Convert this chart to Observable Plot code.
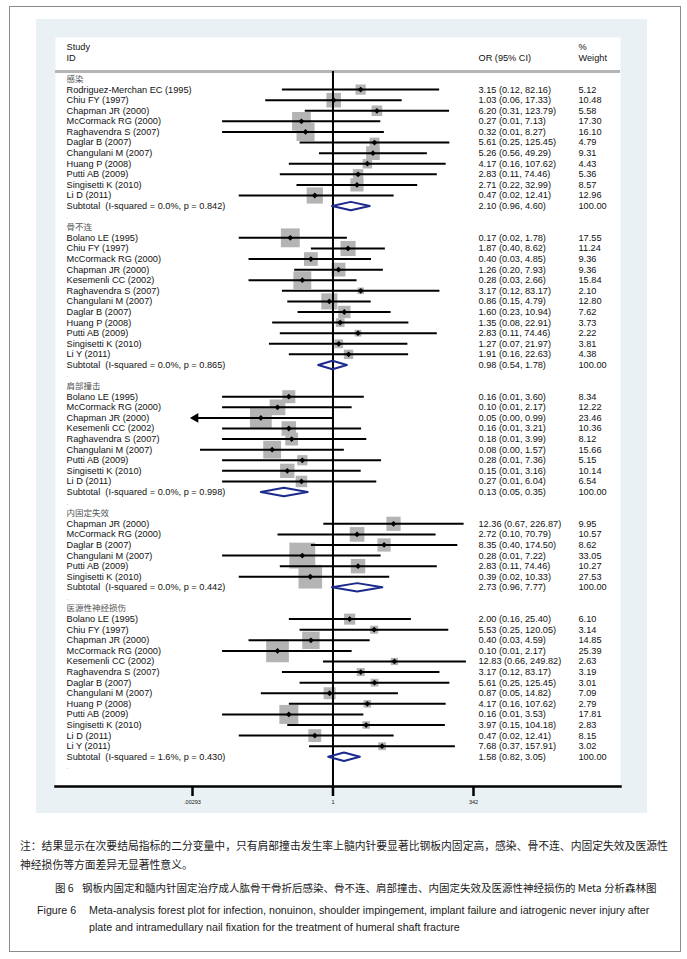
<!DOCTYPE html>
<html><head><meta charset="utf-8">
<script src="https://cdn.jsdelivr.net/npm/d3@7"></script>
<script src="https://cdn.jsdelivr.net/npm/@observablehq/plot@0.6"></script>
<style>
body{margin:0;background:#fff;width:687px;height:959px;position:relative;overflow:hidden;font-family:"Liberation Sans",Arial,sans-serif}
#frame{position:absolute;left:9px;top:6px;width:672px;height:946px;border:1px solid #8a8a8a;box-sizing:border-box}
#chart{position:absolute;left:36px;top:19px}
.cap{position:absolute;white-space:nowrap;color:#1a1a1a}
.cn{font-family:"Noto Sans CJK SC",sans-serif}
.en{font-family:"Liberation Sans",Arial,sans-serif}
</style></head><body>
<div id="frame"></div>
<div id="chart"></div>
<div class="cap cn" style="left:20px;top:837px;font-size:10.8px">注：结果显示在次要结局指标的二分变量中，只有肩部撞击发生率上髓内针要显著比钢板内固定高，感染、骨不连、内固定失效及医源性</div>
<div class="cap cn" style="left:20px;top:856px;font-size:10.8px">神经损伤等方面差异无显著性意义。</div>
<div class="cap cn" style="left:55px;top:880px;font-size:10.5px">图 6</div>
<div class="cap cn" style="left:82px;top:880px;font-size:10.5px">钢板内固定和髓内针固定治疗成人肱骨干骨折后感染、骨不连、肩部撞击、内固定失效及医源性神经损伤的 Meta 分析森林图</div>
<div class="cap en" style="left:37px;top:904px;font-size:10.7px">Figure 6</div>
<div class="cap en" style="left:89px;top:904px;font-size:10.7px">Meta-analysis forest plot for infection, nonuinon, shoulder impingement, implant failure and iatrogenic never injury after</div>
<div class="cap en" style="left:89px;top:921px;font-size:10.7px">plate and intramedullary nail fixation for the treatment of humeral shaft fracture</div>
<script>
const groupNames = ["感染","骨不连","肩部撞击","内固定失效","医源性神经损伤"];
const groupSizes = [11, 12, 9, 6, 13];
const studyNames = [
 "Rodriguez-Merchan EC (1995)","Chiu FY (1997)","Chapman JR (2000)","McCormack RG (2000)","Raghavendra S (2007)","Daglar B (2007)","Changulani M (2007)","Huang P (2008)","Putti AB (2009)","Singisetti K (2010)","Li D (2011)",
 "Bolano LE (1995)","Chiu FY (1997)","McCormack RG (2000)","Chapman JR (2000)","Kesemenli CC (2002)","Raghavendra S (2007)","Changulani M (2007)","Daglar B (2007)","Huang P (2008)","Putti AB (2009)","Singisetti K (2010)","Li Y (2011)",
 "Bolano LE (1995)","McCormack RG (2000)","Chapman JR (2000)","Kesemenli CC (2002)","Raghavendra S (2007)","Changulani M (2007)","Putti AB (2009)","Singisetti K (2010)","Li D (2011)",
 "Chapman JR (2000)","McCormack RG (2000)","Daglar B (2007)","Changulani M (2007)","Putti AB (2009)","Singisetti K (2010)",
 "Bolano LE (1995)","Chiu FY (1997)","Chapman JR (2000)","McCormack RG (2000)","Kesemenli CC (2002)","Raghavendra S (2007)","Daglar B (2007)","Changulani M (2007)","Huang P (2008)","Putti AB (2009)","Singisetti K (2010)","Li D (2011)","Li Y (2011)"
];
const studyOR = [
 3.15,1.03,6.20,0.27,0.32,5.61,5.26,4.17,2.83,2.71,0.47,
 0.17,1.87,0.40,1.26,0.28,3.17,0.86,1.60,1.35,2.83,1.27,1.91,
 0.16,0.10,0.05,0.16,0.18,0.08,0.28,0.15,0.27,
 12.36,2.72,8.35,0.28,2.83,0.39,
 2.00,5.53,0.40,0.10,12.83,3.17,5.61,0.87,4.17,0.16,3.97,0.47,7.68
];
const studyLo = [
 0.12,0.06,0.31,0.01,0.01,0.25,0.56,0.16,0.11,0.22,0.02,
 0.02,0.40,0.03,0.20,0.03,0.12,0.15,0.23,0.08,0.11,0.07,0.16,
 0.01,0.01,0.0025,0.01,0.01,0.004,0.01,0.01,0.01,
 0.67,0.10,0.40,0.01,0.11,0.02,
 0.16,0.25,0.03,0.01,0.66,0.12,0.25,0.05,0.16,0.01,0.15,0.02,0.37
];
const studyHi = [
 82.16,17.33,123.79,7.13,8.27,125.45,49.29,107.62,74.46,32.99,12.41,
 1.78,8.62,4.85,7.93,2.66,83.17,4.79,10.94,22.91,74.46,21.97,22.63,
 3.60,2.17,0.99,3.21,3.99,1.57,7.36,3.16,6.04,
 226.87,70.79,174.50,7.22,74.46,10.33,
 25.40,120.05,4.59,2.17,249.82,83.17,125.45,14.82,107.62,3.53,104.18,12.41,157.91
];
const studyWeight = [
 5.12,10.48,5.58,17.30,16.10,4.79,9.31,4.43,5.36,8.57,12.96,
 17.55,11.24,9.36,9.36,15.84,2.10,12.80,7.62,3.73,2.22,3.81,4.38,
 8.34,12.22,23.46,10.36,8.12,15.66,5.15,10.14,6.54,
 9.95,10.57,8.62,33.05,10.27,27.53,
 6.10,3.14,14.85,25.39,2.63,3.19,3.01,7.09,2.79,17.81,2.83,8.15,3.02
];
const subOR = [2.10, 0.98, 0.13, 2.73, 1.58];
const subLo = [0.96, 0.54, 0.05, 0.96, 0.82];
const subHi = [4.60, 1.78, 0.35, 7.77, 3.05];
const subI2 = ["0.0", "0.0", "0.0", "0.0", "1.6"];
const subP = ["0.842", "0.865", "0.998", "0.442", "0.430"];
const tickValues = [0.00293, 1, 342];
const tickLabels = [".00293", "1", "342"];

// build table rows
const rows = [];
let r = 0, k = 0;
groupNames.forEach((g, gi) => {
  rows.push({row: r++, type: "group", label: g});
  for (let j = 0; j < groupSizes[gi]; j++, k++) {
    rows.push({row: r++, type: "study", label: studyNames[k], or: studyOR[k], lo: studyLo[k], hi: studyHi[k], w: studyWeight[k]});
  }
  rows.push({row: r++, type: "sub", g: gi, label: `Subtotal\u00a0\u00a0(I-squared = ${subI2[gi]}%, p = ${subP[gi]})`, or: subOR[gi], lo: subLo[gi], hi: subHi[gi], w: 100});
  rows.push({row: r++, type: "blank", label: "."});
});
const studies = rows.filter(d => d.type === "study");
const subs = rows.filter(d => d.type === "sub");
const numbered = rows.filter(d => d.type === "study" || d.type === "sub");
const xMin = tickValues[0];
const fmt = v => v.toFixed(2);

const diamondPts = subs.flatMap(d => [
  {g: d.g, x: d.lo, y: d.row}, {g: d.g, x: d.or, y: d.row - 0.4},
  {g: d.g, x: d.hi, y: d.row}, {g: d.g, x: d.or, y: d.row + 0.4},
  {g: d.g, x: d.lo, y: d.row}
]);

const sepRow = -0.71, axisRow = 66.8;
const fs = 9.2;
const chart = Plot.plot({
  width: 611, height: 794,
  marginLeft: 19, marginRight: 27, marginTop: 18, marginBottom: 27,
  style: {background: "#eaf1f4", fontFamily: "Liberation Sans, Arial, sans-serif", overflow: "visible"},
  x: {type: "log", domain: [tickValues[0], tickValues[2]], range: [156, 437], axis: null},
  y: {domain: [0, 64], range: [59.5, 737.3], axis: null},
  r: {domain: [0, 100], range: [0, 25.4]},
  marks: [
    Plot.frame({fill: "white", stroke: null}),
    Plot.ruleY([sepRow], {stroke: "#b5b5b5", strokeWidth: 3}),
    Plot.dot(studies, {x: "or", y: "row", r: "w", symbol: "square", fill: "#b4b4b4", stroke: null}),
    Plot.ruleX([1], {y1: sepRow, y2: axisRow, stroke: "black", strokeWidth: 2}),
    Plot.link(studies, {x1: d => Math.max(d.lo, xMin), x2: "hi", y1: "row", y2: "row", stroke: "black", strokeWidth: 2}),
    Plot.dot(studies.filter(d => d.lo < xMin), {x: d => xMin, y: "row", symbol: "triangle", rotate: -90, r: 3.6, dx: 3, fill: "black", stroke: null}),
    Plot.dot(studies, {x: "or", y: "row", symbol: "diamond2", r: 2.6, fill: "black", stroke: null}),
    Plot.line(diamondPts, {x: "x", y: "y", z: "g", stroke: "#1c2a8c", strokeWidth: 2}),
    Plot.frame({anchor: "bottom", stroke: "black", strokeWidth: 2.5}),
    // axis ticks and labels
    Plot.ruleX(tickValues, {y1: axisRow, y2: axisRow + 0.95, stroke: "black", strokeWidth: 2.5}),
    Plot.text(tickValues, {x: d => d, frameAnchor: "bottom", dy: 17, text: d => tickLabels[tickValues.indexOf(d)], fontSize: 5.5, fill: "#111"}),
    // header
    Plot.text(["Study"], {y: [-3], text: d => d, frameAnchor: "left", dx: 11, textAnchor: "start", fontSize: fs, fill: "#111"}),
    Plot.text(["ID"], {y: [-2], text: d => d, frameAnchor: "left", dx: 11, textAnchor: "start", fontSize: fs, fill: "#111"}),
    Plot.text(["OR (95% CI)"], {y: [-2], text: d => d, frameAnchor: "left", dx: 423, textAnchor: "start", fontSize: fs, fill: "#111"}),
    Plot.text(["%"], {y: [-3], text: d => d, frameAnchor: "left", dx: 523, textAnchor: "start", fontSize: fs, fill: "#111"}),
    Plot.text(["Weight"], {y: [-2], text: d => d, frameAnchor: "left", dx: 523, textAnchor: "start", fontSize: fs, fill: "#111"}),
    // group labels
    Plot.text(rows.filter(d => d.type === "group"), {y: "row", text: "label", frameAnchor: "left", dx: 11, textAnchor: "start", fontSize: 8.5, fill: "#555", fontFamily: "Noto Sans CJK SC"}),
    Plot.text(rows.filter(d => d.type === "blank"), {y: "row", text: "label", frameAnchor: "left", dx: 11, textAnchor: "start", fontSize: 6, fill: "#888"}),
    // study names and numbers
    Plot.text(numbered, {y: "row", text: "label", frameAnchor: "left", dx: 11, textAnchor: "start", fontSize: fs, fill: "#111"}),
    Plot.text(numbered, {y: "row", text: d => `${fmt(d.or)} (${fmt(d.lo)}, ${fmt(d.hi)})`, frameAnchor: "left", dx: 423, textAnchor: "start", fontSize: fs, fill: "#111"}),
    Plot.text(numbered, {y: "row", text: d => fmt(d.w), frameAnchor: "left", dx: 523, textAnchor: "start", fontSize: fs, fill: "#111"})
  ]
});
document.getElementById("chart").appendChild(chart);
</script>
</body></html>
